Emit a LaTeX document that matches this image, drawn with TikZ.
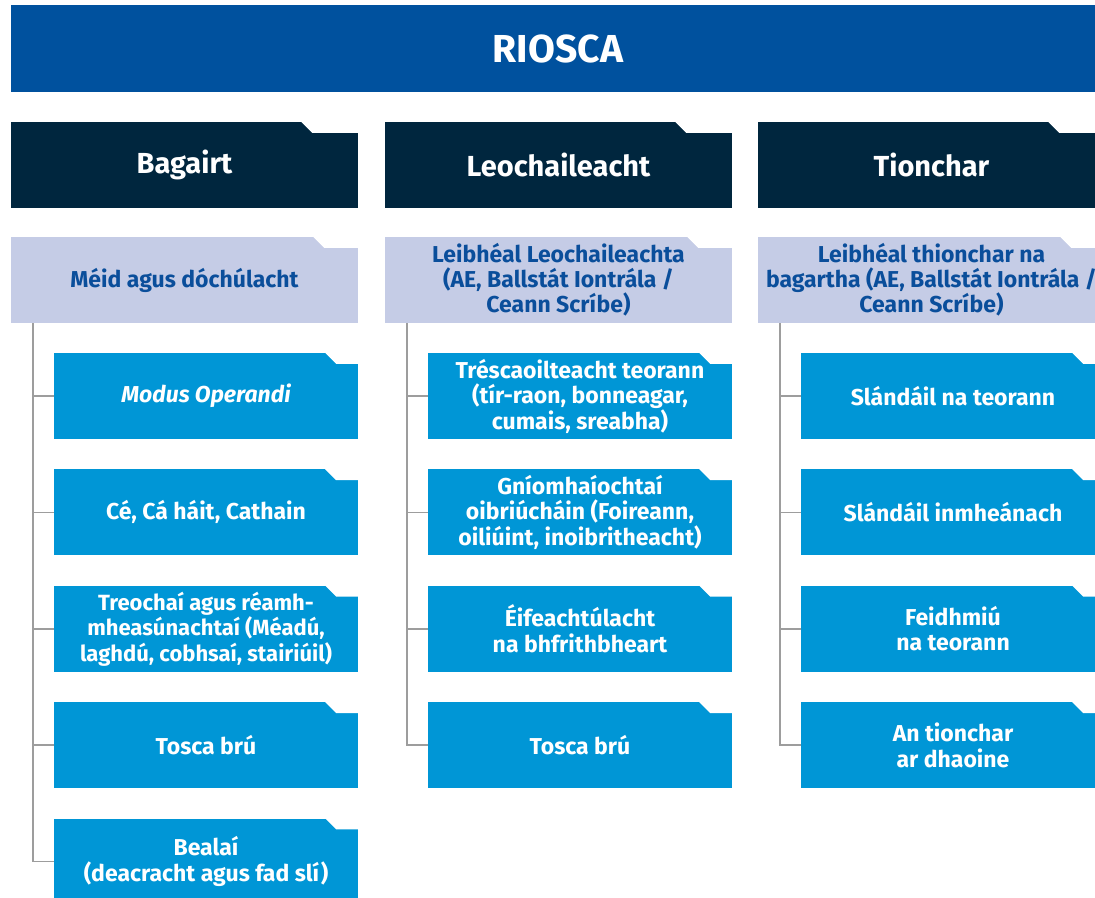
\documentclass[tikz,border=0pt]{standalone}
\usepackage{fontspec}
\setmainfont{Fira Sans}
\usetikzlibrary{positioning}

\definecolor{risktitle}{RGB}{0,81,158}
\definecolor{riskhead}{RGB}{0,38,62}
\definecolor{risklevel}{RGB}{197,204,230}
\definecolor{risklevtext}{RGB}{10,78,155}
\definecolor{riskitem}{RGB}{0,150,214}
\definecolor{risklink}{RGB}{157,157,157}

\tikzset{
  boxbase/.style={minimum height=86pt, inner sep=0pt, align=center},
  titlebox/.style={boxbase, fill=risktitle, text=white, minimum width=1094pt, minimum height=87pt,
    font=\bfseries\fontsize{39}{44}\selectfont},
  headbox/.style={boxbase, fill=riskhead, text=white, minimum width=347pt,
    font=\bfseries\fontsize{29}{34}\selectfont},
  levelbox/.style={boxbase, fill=risklevel, text=risklevtext, minimum width=347pt,
    font=\bfseries\fontsize{23}{25}\selectfont},
  itembox/.style={boxbase, fill=riskitem, text=white, minimum width=304pt,
    font=\bfseries\fontsize{23}{25.5}\selectfont},
  smalltext/.style={font=\bfseries\fontsize{22}{25.5}\selectfont},
  link/.style={draw=risklink, line width=1.6pt},
}

% cut the top right corner of a box
\newcommand{\notch}[2]{%
  \fill[white, shift={(#1.north east)}] (-#2,-1) -- (-#2,0) -- (-#2+11,11) -- (1,11) -- (1,-1) -- cycle;}

\begin{document}
\begin{tikzpicture}[x=1pt, y=-1pt]
    \useasboundingbox (0,0) rectangle (1095,897);
    \clip (0,0) rectangle (1095,897);

    % title
    \node[titlebox] (title) at (558,48.5) {RIOSCA};

    % column headers
    \node[headbox] (h1) at (184.5,165) {Bagairt};
    \node[headbox] (h2) at (558.5,165) {Leochaileacht};
    \node[headbox] (h3) at (931.5,165) {Tionchar};

    % levels
    \node[levelbox] (l1) at (184.5,280) {Méid agus dóchúlacht};
    \node[levelbox] (l2) at (558.5,280) {Leibhéal Leochaileachta\\(AE, Ballstát Iontrála /\\Ceann Scríbe)};
    \node[levelbox] (l3) at (931.5,280) {Leibhéal thionchar na\\bagartha (AE, Ballstát Iontrála /\\Ceann Scríbe)};

    % Bagairt
    \node[itembox] (b11) at (206,396) {\itshape Modus Operandi};
    \node[itembox, below=30pt of b11] (b12) {Cé, Cá háit, Cathain};
    \node[itembox, smalltext, below=30pt of b12] (b13) {Treochaí agus réamh-\\mheasúnachtaí (Méadú,\\laghdú, cobhsaí, stairiúil)};
    \node[itembox, below=30pt of b13] (b14) {Tosca brú};
    \node[itembox, below=30pt of b14] (b15) {Bealaí\\(deacracht agus fad slí)};

    % Leochaileacht
    \node[itembox] (b21) at (580,396) {Tréscaoilteacht teorann\\(tír-raon, bonneagar,\\cumais, sreabha)};
    \node[itembox, below=30pt of b21] (b22) {Gníomhaíochtaí\\oibriúcháin (Foireann,\\oiliúint, inoibritheacht)};
    \node[itembox, below=30pt of b22] (b23) {Éifeachtúlacht\\na bhfrithbheart};
    \node[itembox, below=30pt of b23] (b24) {Tosca brú};

    % Tionchar
    \node[itembox] (b31) at (953,396) {Slándáil na teorann};
    \node[itembox, below=30pt of b31] (b32) {Slándáil inmheánach};
    \node[itembox, below=30pt of b32] (b33) {Feidhmiú\\na teorann};
    \node[itembox, below=30pt of b33] (b34) {An tionchar\\ar dhaoine};

    % corners
    \foreach \n in {h1,h2,h3} \notch{\n}{57};
    \foreach \n in {l1,l2,l3} \notch{\n}{45};
    \foreach \n in {b11,b12,b13,b14,b15,b21,b22,b23,b24,b31,b32,b33,b34} \notch{\n}{33};

    % tree lines
    \foreach \c/\k in {1/5,2/4,3/4}
      \foreach \i in {1,...,\k}
        \draw[link] ([xshift=22pt]l\c.south west) |- (b\c\i.west);
\end{tikzpicture}
\end{document}
